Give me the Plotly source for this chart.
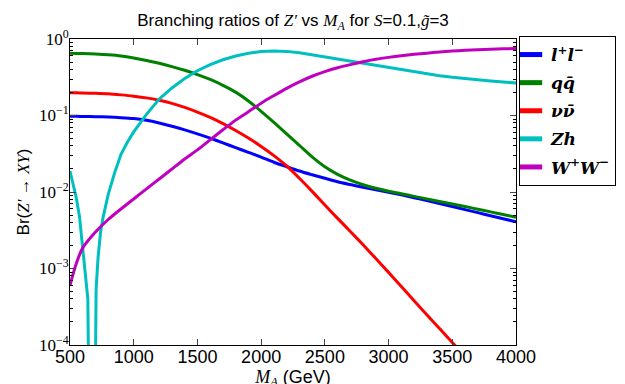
import plotly.graph_objects as go

# ---------------- data ----------------
mass = [500, 550, 600, 700, 800, 900, 1000, 1100, 1200, 1300, 1400, 1500, 1600, 1700,
        1800, 1900, 2000, 2100, 2200, 2300, 2400, 2500, 2600, 2700, 2800, 2900,
        3000, 3100, 3200, 3300, 3400, 3500, 3600, 3700, 3800, 3900, 4000]

br_ll = [0.098, 0.0975, 0.0970, 0.0964, 0.0955, 0.0938, 0.0912, 0.0865, 0.0798, 0.0724,
         0.0649, 0.0575, 0.0505, 0.0439, 0.0380, 0.0330, 0.0286, 0.0245, 0.0214, 0.0188,
         0.0168, 0.0151, 0.0136, 0.0125, 0.01153, 0.01072, 0.00995, 0.00918, 0.00843,
         0.00773, 0.00706, 0.00646, 0.00589, 0.00537, 0.0049, 0.00447, 0.00407]

br_qq = [0.65, 0.648, 0.646, 0.635, 0.621, 0.60, 0.565, 0.525, 0.481, 0.436, 0.39,
         0.343, 0.296, 0.248, 0.202, 0.155, 0.1135, 0.0813, 0.0575, 0.0407, 0.0288,
         0.0214, 0.0170, 0.01429, 0.01245, 0.01117, 0.01023, 0.0095, 0.00877, 0.00813,
         0.00753, 0.00697, 0.00646, 0.00596, 0.0055, 0.00507, 0.00468]

br_nn = [0.199, 0.198, 0.197, 0.195, 0.192, 0.186, 0.179, 0.170, 0.158, 0.144, 0.128,
         0.111, 0.0944, 0.0785, 0.0638, 0.0507, 0.0394, 0.0299, 0.0219, 0.0151, 0.0102,
         0.00676, 0.00452, 0.00305, 0.00204, 0.00135, 0.00089, 0.000582, 0.00038,
         0.000248, 0.000164, 0.000108, 0.000071, 0.000046, 0.000029, 0.000018, 0.000011]

br_ww = [0.00060, 0.00117, 0.00186, 0.0030, 0.00437, 0.0060, 0.0081, 0.0110, 0.0148,
         0.0200, 0.027, 0.0355, 0.048, 0.065, 0.087, 0.112, 0.145, 0.182, 0.2265,
         0.275, 0.326, 0.374, 0.42, 0.462, 0.504, 0.542, 0.575, 0.605, 0.631, 0.653,
         0.676, 0.695, 0.711, 0.724, 0.735, 0.743, 0.75]

mass_zh = [500, 525, 550, 575, 600, 620, 640, 675, 705, 720, 740, 760, 780, 800, 850,
           900, 950, 1000, 1100, 1200, 1300, 1400, 1500, 1600, 1700, 1800, 1900, 2000,
           2100, 2200, 2300, 2400, 2500, 2600, 2700, 2800, 2900, 3000, 3100, 3200,
           3300, 3400, 3500, 3600, 3700, 3800, 3900, 4000]

br_zh = [0.0188, 0.0126, 0.0083, 0.0047, 0.0019, 0.0010, 0.0004, 1e-9, 0.00054,
         0.00138, 0.0030, 0.0047, 0.0069, 0.0093, 0.0178, 0.031, 0.0447, 0.061, 0.1035,
         0.164, 0.229, 0.305, 0.385, 0.462, 0.535, 0.60, 0.65, 0.684, 0.697, 0.689,
         0.661, 0.621, 0.579, 0.543, 0.513, 0.481, 0.45, 0.421, 0.394, 0.369, 0.348,
         0.331, 0.316, 0.303, 0.292, 0.283, 0.274, 0.266]

series_names = ["<b><i>l</i><sup>+</sup><i>l</i><sup>\u2212</sup></b>",
                "<b><i>q</i><i>q\u0304</i></b>",
                "<b><i>\u03bd</i><i>\u03bd\u0304</i></b>",
                "<b><i>Zh</i></b>",
                "<b><i>W</i><sup>+</sup><i>W</i><sup>\u2212</sup></b>"]
series_colors = ["#0000ff", "#008000", "#ff0000", "#00bfbf", "#bf00bf"]

x_ticks = [500, 1000, 1500, 2000, 2500, 3000, 3500, 4000]
y_ticks = [1, 0.1, 0.01, 0.001, 0.0001]
y_ticktext = ["10<sup>0</sup>", "10<sup>\u22121</sup>", "10<sup>\u22122</sup>",
              "10<sup>\u22123</sup>", "10<sup>\u22124</sup>"]
y_minor = [m * 10 ** e for e in (-4, -3, -2, -1) for m in range(2, 10)]

SERIF = "Liberation Serif"
SANS = "Liberation Sans"
W, H = 625, 384
OFF = 8  # page body offset of the rendered figure

fig = go.Figure()
xs = [mass, mass, mass, mass_zh, mass]
ys = [br_ll, br_qq, br_nn, br_zh, br_ww]
shapes = ["spline", "spline", "spline", "linear", "spline"]
for name, color, x, y, shp in zip(series_names, series_colors, xs, ys, shapes):
    fig.add_trace(go.Scatter(x=x, y=y, mode="lines", name=name, showlegend=False,
                             line=dict(color=color, width=3, shape=shp, smoothing=0.8)))
# legend entries (thick short patches)
for i, (name, color) in enumerate(zip(series_names, series_colors)):
    fig.add_trace(go.Scatter(x=[None], y=[None], mode="markers", name=name,
                             legendgroup="g%d" % i,
                             marker=dict(symbol="line-ew", size=16,
                                         line=dict(color=color, width=6))))

plot_l, plot_r, plot_t, plot_b = 69.5 - OFF, 516 - OFF, 39 - OFF, 345 - OFF

fig.update_layout(
    width=W, height=H,
    margin=dict(l=plot_l, r=W - plot_r, t=plot_t, b=H - plot_b),
    paper_bgcolor="white", plot_bgcolor="white",
    font=dict(family=SANS, size=17, color="black"),
    title=dict(
        text=("Branching ratios of <span style=\"font-family:Liberation Serif\"><i>Z\u2032</i></span>"
              " vs <span style=\"font-family:Liberation Serif\"><i>M<sub>A</sub></i></span>"
              " for <span style=\"font-family:Liberation Serif\"><i>S</i></span>=0.1,"
              "<span style=\"font-family:Liberation Serif\"><i>g\u0303</i></span>=3"),
        x=0.5, xref="paper", xanchor="center",
        y=1 - (20 - OFF) / H, yref="container", yanchor="middle",
        font=dict(family=SANS, size=17, color="black")),
    legend=dict(x=(519 - OFF) / W, xref="container", xanchor="left",
                y=1 - (36 - OFF) / H, yref="container", yanchor="top",
                bordercolor="black", borderwidth=1, bgcolor="white",
                font=dict(family="DejaVu Serif", size=17, color="black"),
                tracegroupgap=3, traceorder="grouped", indentation=-9),
    showlegend=True,
)

fig.update_xaxes(
    range=[500, 4000], tickvals=x_ticks, ticks="inside", ticklen=6,
    showline=True, linecolor="black", linewidth=1, mirror="ticks",
    showgrid=False, zeroline=False, automargin=False, ticklabelstandoff=-5,
    tickfont=dict(family=SANS, size=18, color="black"),
    title=dict(text="<span style=\"font-family:Liberation Serif\"><i>M<sub>A</sub></i></span> (GeV)",
               font=dict(family=SANS, size=18), standoff=0),
)
fig.update_yaxes(
    type="log", range=[-4, 0], tickvals=y_ticks, ticktext=y_ticktext,
    ticks="inside", ticklen=6,
    minor=dict(tickvals=y_minor, ticks="inside", ticklen=3, tickcolor="black"),
    showline=True, linecolor="black", linewidth=1, mirror="ticks",
    showgrid=False, zeroline=False, automargin=False, ticklabelstandoff=-3,
    tickfont=dict(family=SERIF, size=17, color="black"),
    title=dict(text="Br(<span style=\"font-family:Liberation Serif\"><i>Z\u2032</i> \u2192 <i>XY</i></span>)",
               font=dict(family=SANS, size=17), standoff=4),
)

fig.write_html("out.html")
